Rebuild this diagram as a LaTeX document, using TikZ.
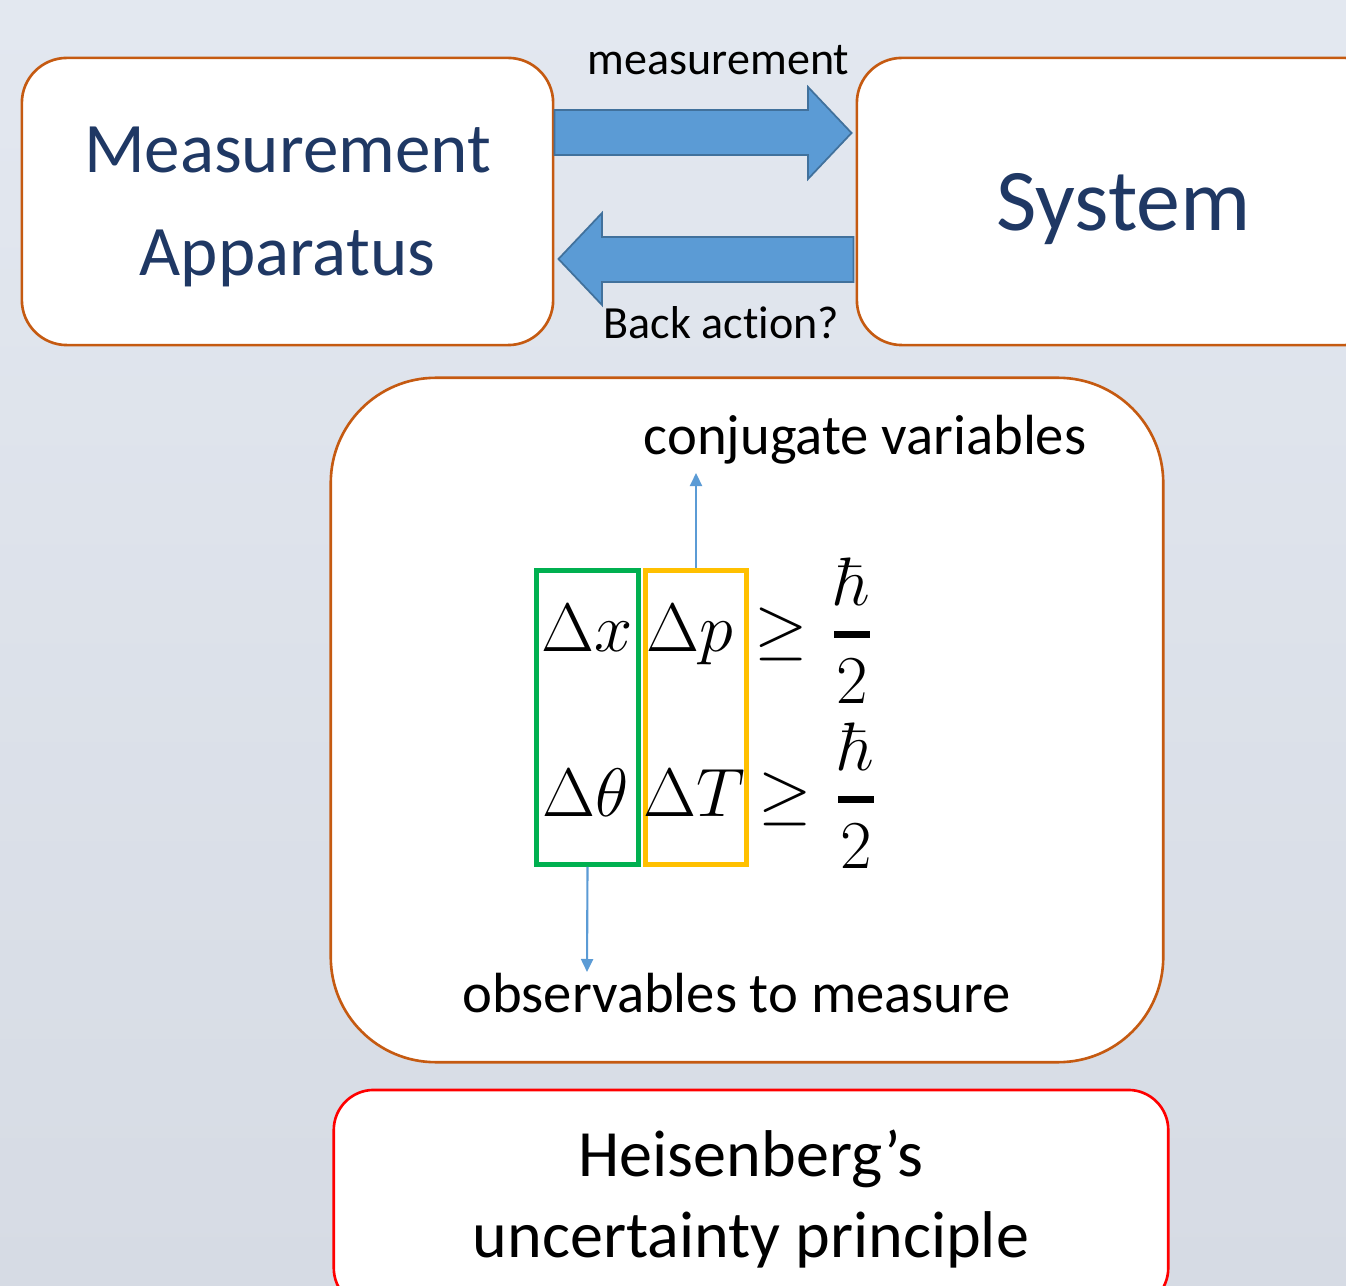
\RequirePackage{fix-cm}
\documentclass[tikz,border=0pt]{standalone}
\usepackage{amsmath}
\usepackage[no-math]{fontspec}
\setmainfont{Carlito}[Ligatures={TeX,NoCommon}]
\usetikzlibrary{arrows.meta,calc}

\definecolor{bgtop}{RGB}{227,232,240}
\definecolor{bgbot}{RGB}{214,219,228}
\definecolor{boxorange}{RGB}{197,90,17}
\definecolor{titleblue}{RGB}{31,56,100}
\definecolor{arrowfill}{RGB}{91,155,213}
\definecolor{arrowline}{RGB}{65,113,156}
\definecolor{obsgreen}{RGB}{0,176,80}
\definecolor{conjyellow}{RGB}{255,192,0}
\definecolor{hupred}{RGB}{255,0,0}

\newcommand{\halfhbar}{\genfrac{}{}{2pt}{0}{\hbar}{2}}

\tikzset{
  panel/.style={draw=boxorange, line width=0.75pt, fill=white, rounded corners=0.45cm, inner sep=0pt},
  blockarrow/.style={fill=arrowfill, draw=arrowline, line width=0.5pt},
  varbox/.style={line width=1.3pt, minimum height=2.94cm, inner sep=0pt},
  eq/.style={anchor=base, inner sep=0pt, font=\fontsize{19.5}{24}\selectfont},
  smalltext/.style={anchor=base, inner sep=0pt, font=\fontsize{13.1}{16}\selectfont},
  midtext/.style={anchor=base, inner sep=0pt, font=\fontsize{16.1}{19}\selectfont},
  thinarrow/.style={draw=arrowfill, line width=0.6pt}
}

\begin{document}
\begin{tikzpicture}[x=0.01cm, y=-0.01cm, >={Triangle[length=0.13cm,width=0.12cm]}]
\useasboundingbox (0,0) rectangle (1346,1286);
\clip (0,0) rectangle (1346,1286);
\fill[top color=bgtop, bottom color=bgbot] (0,0) rectangle (1346,1286);

% apparatus and system
\node[panel, minimum width=5.31cm, minimum height=2.87cm, text=titleblue, align=center, text depth=0pt, font=\fontsize{20.2}{29.3}\selectfont] (app) at (287.5,201.5) {Measurement\\Apparatus};
\node[panel, minimum width=5.33cm, minimum height=2.87cm, text=titleblue, text depth=0pt, font=\fontsize{25}{30}\selectfont] (sys) at (1123.5,201.5) {System};

\draw[blockarrow] (app.east |- 0,110) -- (808,110) -- (808,87) -- ($(sys.west |- 0,133)+(-4,0)$) -- (808,179) -- (808,155) -- (app.east |- 0,155) -- cycle;
\draw[blockarrow] ($(sys.west |- 0,237)+(-2,0)$) -- (602,237) -- (602,213) -- ($(app.east |- 0,259)+(4,0)$) -- (602,305) -- (602,282) -- ($(sys.west |- 0,282)+(-2,0)$) -- cycle;

\node[smalltext] (measlbl) at (718.5,75) {measurement};
\node[smalltext] (backlbl) at (721.5,339) {Back action?};

% uncertainty relations
\node[panel, rounded corners=1.05cm, minimum width=8.32cm, minimum height=6.84cm] (uncert) at (747,720) {};

\node[varbox, draw=obsgreen, minimum width=1.02cm] (obs) at (587.5,717.5) {};
\node[varbox, draw=conjyellow, minimum width=1.01cm] (conj) at (696,717.5) {};

\node[eq] (dx) at (587,652) {$\Delta x$};
\node[eq] (dp) at (690,652) {$\Delta p$};
\node[eq] (geqa) at (781,652) {$\geq$};
\node[eq] (fraca) at (852,652) {$\halfhbar$};

\node[eq] (dth) at (586,817) {$\Delta\theta$};
\node[eq] (dT) at (694,817) {$\Delta T$};
\node[eq] (geqb) at (785,817) {$\geq$};
\node[eq] (fracb) at (856,817) {$\halfhbar$};

\node[midtext] (conjlbl) at (865,455) {conjugate variables};
\node[midtext] (obslbl) at (736.5,1012) {observables to measure};

\coordinate (conjtip) at (696,473);
\coordinate (obstip) at (587,972);
\draw[thinarrow, ->] (conj.north) -- (conjtip);
\draw[thinarrow, ->] (obs.south) -- (obstip);

% principle
\node[panel, draw=hupred, rounded corners=0.4cm, minimum width=8.34cm, minimum height=2.18cm, align=center, font=\fontsize{18.8}{22.8}\selectfont] (hup) at (751,1199) {Heisenberg’s\\uncertainty principle};
\end{tikzpicture}
\end{document}
